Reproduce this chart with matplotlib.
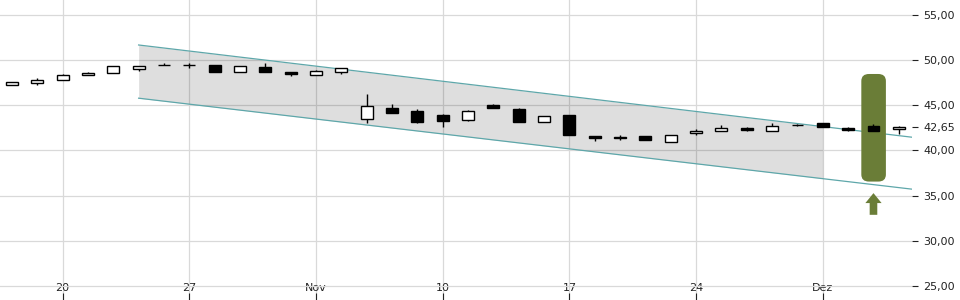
import numpy as np
import matplotlib.pyplot as plt
from matplotlib.patches import FancyBboxPatch

# Handelstage 16.10. - 04.12. (Index = Handelstag)
opens = [47.22, 47.44, 47.78, 48.33, 48.55, 49.06, 49.45, 49.45, 49.47, 48.66,
         49.21, 48.69, 48.33, 48.66, 43.46, 44.71, 44.38, 43.94, 43.42, 45.04,
         44.60, 43.13, 43.94, 41.55, 41.50, 41.62, 40.92, 41.91, 42.14, 42.50,
         42.14, 42.80, 43.09, 42.54, 42.75, 42.36]
closes = [47.56, 47.81, 48.33, 48.55, 49.33, 49.33, 49.45, 49.45, 48.73, 49.33,
          48.73, 48.44, 48.77, 49.14, 44.90, 44.19, 43.20, 43.31, 44.38, 44.75,
          43.20, 43.83, 41.76, 41.35, 41.40, 41.21, 41.73, 42.17, 42.47, 42.31,
          42.72, 42.80, 42.64, 42.31, 42.20, 42.64]
highs = [47.60, 48.00, 48.47, 48.73, 49.33, 49.33, 49.70, 49.66, 49.47, 49.33,
         49.69, 48.69, 48.92, 49.14, 46.26, 45.15, 44.57, 44.05, 44.49, 45.15,
         44.71, 43.83, 43.94, 41.62, 41.73, 41.62, 41.73, 42.36, 42.83, 42.64,
         43.09, 42.95, 43.09, 42.64, 42.97, 42.72]
lows = [47.20, 47.22, 47.78, 48.33, 48.55, 48.84, 49.45, 49.17, 48.73, 48.66,
        48.66, 48.29, 48.33, 48.50, 43.02, 44.19, 43.09, 42.64, 43.31, 44.75,
        43.20, 43.13, 41.76, 41.10, 41.17, 41.21, 40.92, 41.73, 42.14, 42.20,
        42.14, 42.75, 42.58, 42.20, 42.20, 41.84]

tick_pos = [2, 7, 12, 17, 22, 27, 32]
tick_labels = ['20', '27', 'Nov', '10', '17', '24', 'Dez']
y_ticks = [25, 30, 35, 40, 42.65, 45, 50, 55]
last_price = 42.65

# Trendkanal
chan_x = [5.0, 35.52]
chan_upper = [51.68, 41.47]
chan_lower = [45.79, 35.72]
band_end = 32

# Signal
signal_idx = 34
signal_top, signal_bottom = 48.47, 36.56
arrow_base, arrow_tip = 32.88, 35.28

green = '#6a7d37'
teal = '#5ea7aa'

fig = plt.figure(figsize=(9.6, 3.0), dpi=100)
ax = fig.add_axes([0, 0, 912 / 960, 1])

x = np.arange(len(opens))
o, c, h, l = map(np.array, (opens, closes, highs, lows))

# Kanal
slope_u = (chan_upper[1] - chan_upper[0]) / (chan_x[1] - chan_x[0])
slope_l = (chan_lower[1] - chan_lower[0]) / (chan_x[1] - chan_x[0])
xb = np.array([chan_x[0], band_end])
ax.fill_between(xb, chan_upper[0] + slope_u * (xb - chan_x[0]),
                chan_lower[0] + slope_l * (xb - chan_x[0]),
                color='black', alpha=0.13, lw=0, zorder=1)
ax.plot(chan_x, chan_upper, color=teal, lw=0.9, zorder=2)
ax.plot(chan_x, chan_lower, color=teal, lw=0.9, zorder=2)

# Signalbox + Pfeil
box = FancyBboxPatch((signal_idx - 0.48, signal_bottom), 0.97, signal_top - signal_bottom,
                     boxstyle='round,pad=0,rounding_size=0.3', mutation_aspect=2.6,
                     fc=green, ec='none', zorder=3)
ax.add_patch(box)
ax.arrow(signal_idx, arrow_base, 0, arrow_tip - arrow_base, width=0.3, head_width=0.64,
         head_length=1.1, length_includes_head=True, fc=green, ec='none', zorder=3)

# Kerzen
ax.vlines(x, l, h, color='black', lw=1.0, zorder=4)
up = c >= o
body_lo = np.minimum(o, c)
body_h = np.abs(c - o)
ax.bar(x, body_h, bottom=body_lo, width=0.47,
       color=np.where(up, 'white', 'black'), edgecolor='black', lw=1.0, zorder=5)

ax.set_xlim(-0.47, 35.52)
ax.set_ylim(23.45, 56.66)

ax.set_xticks(tick_pos)
ax.set_xticklabels(tick_labels)
ax.set_yticks(y_ticks)
ax.set_yticklabels([f'{v:.2f}'.replace('.', ',') for v in y_ticks])
ax.yaxis.tick_right()
ax.tick_params(axis='y', length=4, width=0.8, pad=4, labelsize=8, colors='#222222')
ax.tick_params(axis='x', direction='in', length=5, width=0.8, pad=-12.5, labelsize=8,
               colors='#222222')

ax.grid(True, color='#d9d9d9', lw=0.9, zorder=0)
ax.set_axisbelow(True)
ax.yaxis.get_gridlines()[y_ticks.index(last_price)].set_visible(False)
for s in ax.spines.values():
    s.set_visible(False)

fig.savefig('out.png', dpi=100)
